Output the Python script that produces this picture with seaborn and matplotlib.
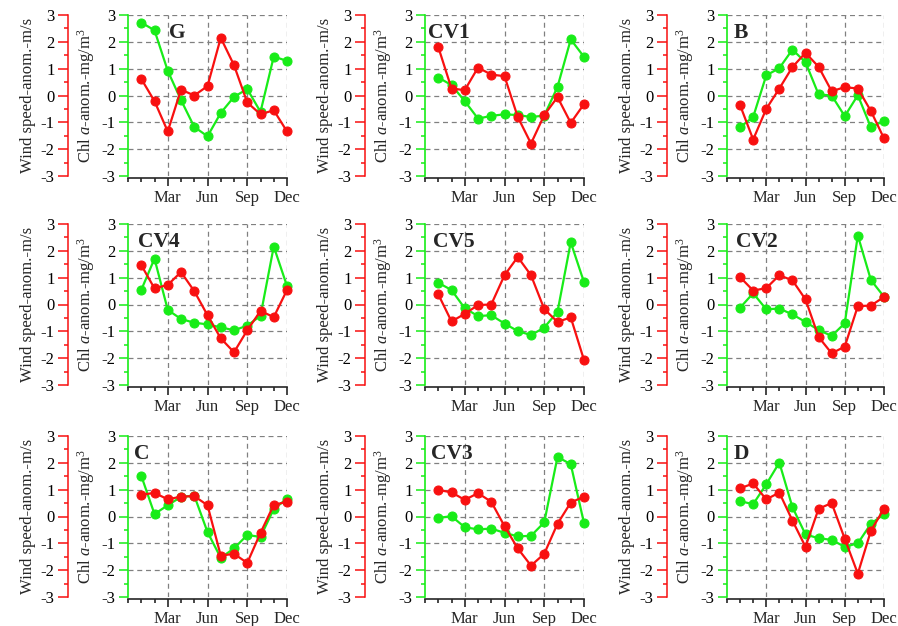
import matplotlib
matplotlib.use("Agg")
import pandas as pd
import matplotlib.pyplot as plt
from matplotlib.ticker import FixedLocator, MultipleLocator
import seaborn as sns

months = list(range(1, 13))
month_ticks = [3, 6, 9, 12]
month_labels = ["Mar", "Jun", "Sep", "Dec"]

sites = ["G", "CV1", "B", "CV4", "CV5", "CV2", "C", "CV3", "D"]

# green: Chl a anomaly, red: wind speed anomaly
chl_G = [2.72, 2.43, 0.92, -0.17, -1.17, -1.52, -0.65, -0.05, 0.24, -0.61, 1.45, 1.29]
wind_G = [0.62, -0.21, -1.34, 0.22, 0.0, 0.35, 2.15, 1.13, -0.26, -0.70, -0.55, -1.34]
chl_CV1 = [0.67, 0.39, -0.21, -0.86, -0.76, -0.70, -0.73, -0.80, -0.75, 0.32, 2.09, 1.44]
wind_CV1 = [1.81, 0.26, 0.20, 1.04, 0.78, 0.72, -0.80, -1.79, -0.73, -0.06, -1.02, -0.32]
chl_B = [-1.18, -0.80, 0.75, 1.02, 1.71, 1.24, 0.04, 0.0, -0.77, 0.01, -1.19, -0.94]
wind_B = [-0.36, -1.64, -0.50, 0.26, 1.06, 1.59, 1.07, 0.16, 0.31, 0.26, -0.58, -1.60]
chl_CV4 = [0.54, 1.71, -0.20, -0.54, -0.68, -0.74, -0.85, -0.96, -0.79, -0.42, 2.16, 0.69]
wind_CV4 = [1.47, 0.60, 0.73, 1.21, 0.50, -0.40, -1.26, -1.78, -0.96, -0.24, -0.47, 0.54]
chl_CV5 = [0.81, 0.54, -0.14, -0.43, -0.40, -0.71, -0.99, -1.14, -0.86, -0.27, 2.32, 0.83]
wind_CV5 = [0.38, -0.63, -0.35, -0.02, 0.0, 1.09, 1.77, 1.09, -0.17, -0.65, -0.48, -2.07]
chl_CV2 = [-0.12, 0.42, -0.18, -0.15, -0.37, -0.65, -0.95, -1.17, -0.70, 2.57, 0.91, 0.29]
wind_CV2 = [1.02, 0.52, 0.61, 1.09, 0.90, 0.19, -1.21, -1.82, -1.57, -0.06, -0.04, 0.28]
chl_C = [1.52, 0.09, 0.42, 0.73, 0.78, -0.58, -1.54, -1.19, -0.69, -0.76, 0.28, 0.66]
wind_C = [0.81, 0.88, 0.64, 0.74, 0.76, 0.42, -1.46, -1.39, -1.73, -0.61, 0.43, 0.55]
chl_CV3 = [-0.05, 0.01, -0.40, -0.48, -0.45, -0.61, -0.74, -0.72, -0.22, 2.22, 1.95, -0.25]
wind_CV3 = [0.99, 0.90, 0.62, 0.87, 0.55, -0.36, -1.19, -1.83, -1.39, -0.27, 0.52, 0.74]
chl_D = [0.57, 0.46, 1.20, 2.01, 0.35, -0.67, -0.81, -0.87, -1.13, -1.00, -0.27, 0.09]
wind_D = [1.05, 1.23, 0.64, 0.89, -0.15, -1.13, 0.29, 0.50, -0.83, -2.13, -0.53, 0.29]

chl = {"G": chl_G, "CV1": chl_CV1, "B": chl_B, "CV4": chl_CV4, "CV5": chl_CV5,
       "CV2": chl_CV2, "C": chl_C, "CV3": chl_CV3, "D": chl_D}
wind = {"G": wind_G, "CV1": wind_CV1, "B": wind_B, "CV4": wind_CV4, "CV5": wind_CV5,
        "CV2": wind_CV2, "C": wind_C, "CV3": wind_CV3, "D": wind_D}

GREEN = "#18ec18"
RED = "#f81010"

sns.set_style("ticks")
plt.rcParams["font.family"] = ["Liberation Serif", "DejaVu Serif"]
plt.rcParams["mathtext.fontset"] = "custom"
plt.rcParams["mathtext.rm"] = "Liberation Serif"
plt.rcParams["mathtext.it"] = "Liberation Serif:italic"
plt.rcParams["axes.unicode_minus"] = False

fig = plt.figure(figsize=(8.98, 6.26), dpi=100)
FW, FH = 898, 626
lefts = [128, 425, 727]
widths = [159, 159, 157]
tops = [15, 224, 436]
H = 161
title_x = [0.26, 0.02, 0.04, 0.06, 0.05, 0.06, 0.04, 0.04, 0.04]
FS = 12

for i, site in enumerate(sites):
    r, c = divmod(i, 3)
    ax = fig.add_axes([lefts[c] / FW, 1 - (tops[r] + H) / FH, widths[c] / FW, H / FH])
    ax2 = ax.twinx()
    df = pd.DataFrame({"month": months, "chl": chl[site], "wind": wind[site]})

    sns.lineplot(data=df, x="month", y="chl", ax=ax, color=GREEN, marker="o",
                 markersize=6.5, markeredgecolor=GREEN, linewidth=1.6, clip_on=False)
    sns.lineplot(data=df, x="month", y="wind", ax=ax2, color=RED, marker="o",
                 markersize=6.5, markeredgecolor=RED, linewidth=1.6, clip_on=False)

    ax.set_xlim(0, 12)
    for a in (ax, ax2):
        a.set_ylim(-3, 3)
        a.yaxis.set_major_locator(FixedLocator(range(-3, 4)))
        a.yaxis.set_minor_locator(MultipleLocator(0.5))

    # x axis
    ax.xaxis.set_major_locator(FixedLocator(month_ticks))
    ax.xaxis.set_minor_locator(FixedLocator(range(0, 13)))
    ax.set_xticklabels(month_labels)
    ax.set_xlabel("")
    ax.tick_params(axis="x", which="major", length=6, width=1.2, labelsize=FS, pad=2.5)
    ax.tick_params(axis="x", which="minor", length=3, width=1.2)

    # green (chl) axis
    ax.spines["left"].set_color(GREEN)
    ax.spines["left"].set_linewidth(1.2)
    ax.spines["bottom"].set_position(("outward", 1.5))
    ax.spines["bottom"].set_linewidth(1.2)
    for s in ("top", "right"):
        ax.spines[s].set_visible(False)
    ax.tick_params(axis="y", which="major", colors=GREEN, labelcolor="black",
                   length=6.5, width=1.1, labelsize=FS, pad=2.5)
    ax.tick_params(axis="y", which="minor", colors=GREEN, length=3, width=1.1)
    ax.set_ylabel("Chl $a$-anom.-mg/m$^3$", fontsize=FS, labelpad=3)

    # red (wind) axis, offset to the left
    ax2.yaxis.tick_left()
    ax2.yaxis.set_label_position("left")
    ax2.spines["left"].set_visible(True)
    ax2.spines["left"].set_position(("outward", 43))
    ax2.spines["left"].set_color(RED)
    ax2.spines["left"].set_linewidth(1.1)
    for s in ("top", "right", "bottom"):
        ax2.spines[s].set_visible(False)
    ax2.tick_params(axis="y", which="major", colors=RED, labelcolor="black",
                    length=7.5, width=1.1, labelsize=FS, pad=2.5)
    ax2.tick_params(axis="y", which="minor", colors=RED, length=3, width=1.1)
    ax2.set_ylabel("Wind speed-anom.-m/s", fontsize=FS, labelpad=3)

    ax.set_axisbelow(True)
    ax.grid(True, which="major", color="#808080", linestyle=(0, (4, 3)), linewidth=0.9)
    ax.get_ygridlines()[0].set_visible(False)

    ax.text(title_x[i], 0.89, site, transform=ax.transAxes, fontsize=15.5,
            fontweight="bold", ha="left", va="center")

fig.savefig("out.png", dpi=100)
